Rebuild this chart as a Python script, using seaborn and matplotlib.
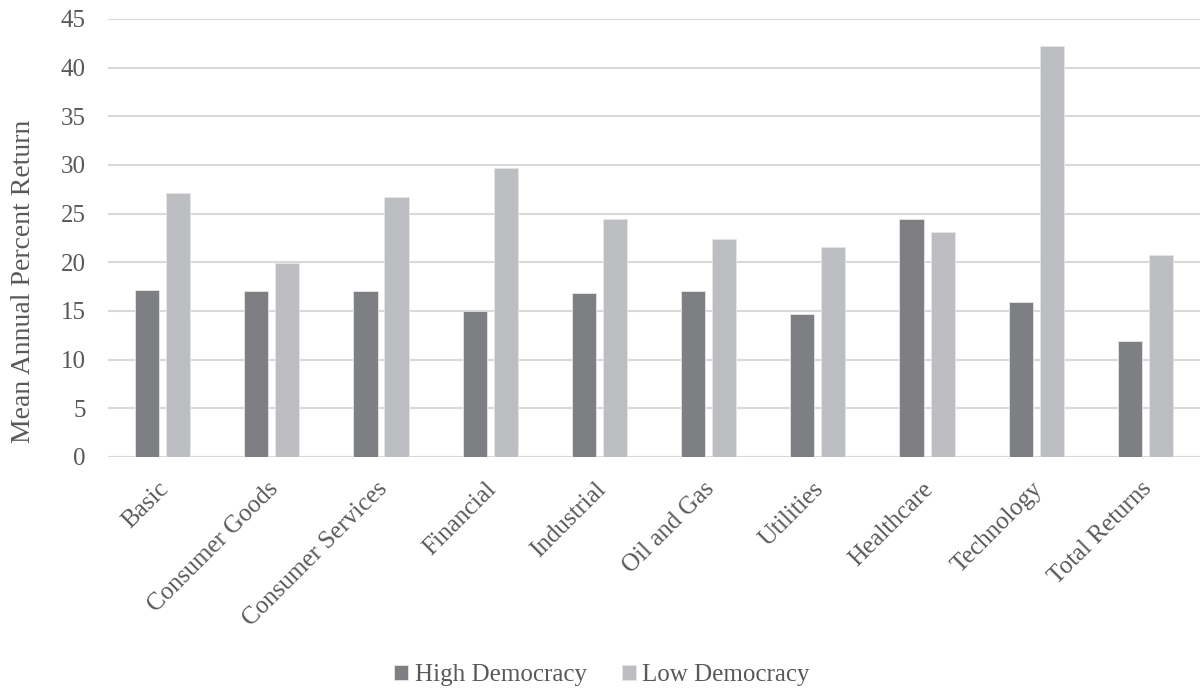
import matplotlib
matplotlib.use("Agg")
import matplotlib.pyplot as plt
import matplotlib.transforms as mtransforms
import seaborn as sns
import pandas as pd

sectors = ["Basic", "Consumer Goods", "Consumer Services", "Financial", "Industrial",
           "Oil and Gas", "Utilities", "Healthcare", "Technology", "Total Returns"]
high_democracy = [17.1, 17.0, 17.0, 15.0, 16.8, 17.0, 14.7, 24.4, 15.9, 11.9]
low_democracy = [27.1, 19.9, 26.7, 29.7, 24.4, 22.4, 21.6, 23.1, 42.2, 20.7]
series_names = ["High Democracy", "Low Democracy"]
y_ticks = [0, 5, 10, 15, 20, 25, 30, 35, 40, 45]

df = pd.DataFrame({
    "Sector": sectors * 2,
    "Group": [series_names[0]] * len(sectors) + [series_names[1]] * len(sectors),
    "Return": high_democracy + low_democracy,
})

sns.set_theme(style="white")
plt.rcParams["font.family"] = ["Liberation Serif", "DejaVu Serif"]
text_color = "#595959"
grid_color = "#d9d9d9"
palette = {series_names[0]: "#7e7f83", series_names[1]: "#bdbec1"}

fig = plt.figure(figsize=(12.04, 6.9), dpi=100)
ax = fig.add_axes([0.0897, 0.3377, 0.907, 0.635])

sns.barplot(data=df, x="Sector", y="Return", hue="Group", order=sectors,
            hue_order=series_names, palette=palette, width=0.568, gap=0.225,
            edgecolor="#e6e6e6", linewidth=0.6, saturation=1, ax=ax, legend=True)

ax.set_ylim(0, 45)
ax.set_xlim(-0.5, len(sectors) - 0.5)
ax.set_yticks(y_ticks)
ax.yaxis.grid(True, color=grid_color, linewidth=1.5)
ax.set_axisbelow(True)
for side in ["top", "right", "left", "bottom"]:
    ax.spines[side].set_visible(False)
ax.axhline(0, color=grid_color, linewidth=1.5, zorder=0.5)

ax.tick_params(axis="both", length=0, colors=text_color, labelsize=18)
ax.tick_params(axis="y", pad=16)
ax.set_xticks(range(len(sectors)))
ax.set_xticklabels(sectors, rotation=45, ha="right", rotation_mode="anchor")
ax.tick_params(axis="x", pad=15)
shift = mtransforms.ScaledTranslation(-5 / 100, 0, fig.dpi_scale_trans)
for lbl in ax.get_xticklabels():
    lbl.set_transform(lbl.get_transform() + shift)
ax.set_xlabel("")
ax.set_ylabel("Mean Annual Percent Return", fontsize=20, color=text_color)
ax.yaxis.set_label_coords(-0.066, 0.40)

handles, labels = ax.get_legend_handles_labels()
ax.get_legend().remove()
fig.legend(handles, labels, loc="lower center", bbox_to_anchor=(0.5, -0.027), ncol=2,
           frameon=False, fontsize=18, labelcolor=text_color, handlelength=0.55,
           handleheight=0.55, handletextpad=0.28, columnspacing=1.4)

fig.savefig("out.png", dpi=100)
